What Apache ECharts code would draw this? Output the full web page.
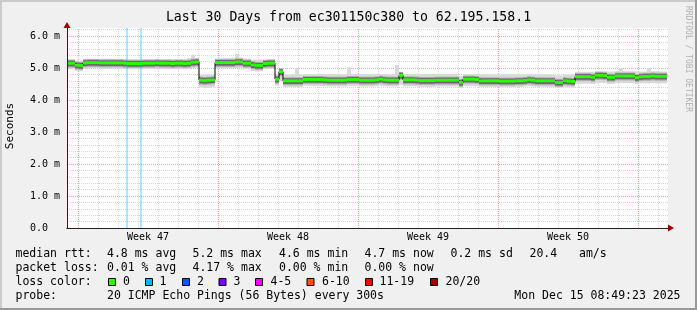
<!DOCTYPE html>
<html><head><meta charset="utf-8">
<script src="https://cdn.jsdelivr.net/npm/echarts@6/dist/echarts.min.js"></script>
<style>html,body{margin:0;padding:0;background:#f0f0f0}#c{width:697px;height:310px}</style>
</head><body><div id="c"></div>
<script>
// ---- data (time in days relative to Monday of week 47; values in ms) ----
const startDay = -0.55;
const stepDay = 0.2;
const endDay = 29.45;
const axisMaxDay = 29.5;
const weekLabels = ['Week 47', 'Week 48', 'Week 49', 'Week 50'];
const weekLabelDays = [3.5, 10.5, 17.5, 24.5];
const weekLineDays = [0, 7, 14, 21, 28];
const dayLineDays = [0,1,2,3,4,5,6,7,8,9,10,11,12,13,14,15,16,17,18,19,20,21,22,23,24,25,26,27,28,29];
const yTickLabels = ['0.0', '1.0 m', '2.0 m', '3.0 m', '4.0 m', '5.0 m', '6.0 m'];
const yMax = 6.25;

const medianMs = [
  5.15,5.15,5.09,5.08,5.16,5.17,5.17,5.17,5.16,5.16,
  5.16,5.16,5.16,5.16,5.15,5.14,5.14,5.14,5.14,5.15,
  5.15,5.15,5.16,5.15,5.15,5.15,5.14,5.15,5.15,5.14,
  5.15,5.18,5.19,4.62,4.61,4.62,4.63,5.17,5.17,5.17,
  5.17,5.17,5.19,5.19,5.15,5.15,5.10,5.08,5.08,5.14,
  5.15,5.15,4.65,4.88,4.60,4.60,4.60,4.60,4.60,4.64,
  4.64,4.64,4.64,4.64,4.63,4.62,4.62,4.62,4.62,4.62,
  4.64,4.64,4.64,4.62,4.62,4.62,4.62,4.63,4.65,4.63,
  4.62,4.62,4.62,4.77,4.63,4.63,4.63,4.62,4.61,4.61,
  4.61,4.61,4.62,4.62,4.62,4.62,4.62,4.62,4.55,4.65,
  4.65,4.65,4.64,4.60,4.60,4.60,4.60,4.60,4.59,4.59,
  4.59,4.59,4.60,4.60,4.61,4.63,4.62,4.60,4.60,4.60,
  4.60,4.60,4.55,4.55,4.60,4.59,4.58,4.73,4.73,4.73,
  4.73,4.71,4.77,4.77,4.76,4.71,4.71,4.75,4.75,4.75,
  4.75,4.75,4.70,4.73,4.74,4.74,4.75,4.74,4.74,4.74
];
const smokeBelow = [
  .19,.19,.18,.18,.18,.18,.17,.17,.18,.18,
  .18,.18,.17,.18,.18,.18,.18,.18,.18,.18,
  .18,.18,.18,.17,.18,.18,.18,.18,.18,.18,
  .18,.18,.18,.22,.24,.24,.22,.18,.18,.18,
  .18,.18,.19,.19,.19,.19,.19,.19,.18,.18,
  .18,.18,.20,.30,.20,.20,.20,.20,.20,.19,
  .20,.20,.20,.20,.20,.20,.20,.20,.20,.20,
  .20,.20,.20,.20,.20,.20,.20,.20,.20,.20,
  .20,.20,.20,.30,.20,.20,.20,.20,.20,.20,
  .20,.20,.20,.20,.20,.20,.20,.20,.17,.22,
  .22,.22,.21,.19,.19,.19,.19,.19,.19,.19,
  .19,.19,.19,.19,.19,.20,.20,.19,.19,.19,
  .19,.19,.16,.16,.19,.19,.19,.22,.22,.22,
  .22,.21,.24,.24,.23,.21,.21,.22,.22,.22,
  .22,.22,.20,.21,.22,.22,.22,.22,.22,.22
];
const smokeAbove = [
  .12,.12,.14,.14,.12,.12,.12,.12,.13,.13,
  .13,.13,.13,.13,.13,.14,.14,.14,.14,.13,
  .13,.13,.13,.13,.13,.13,.14,.13,.13,.14,
  .16,.23,.12,.17,.18,.18,.17,.13,.14,.15,
  .15,.15,.25,.14,.15,.14,.16,.18,.18,.13,
  .13,.13,.17,.06,.19,.19,.20,.40,.19,.17,
  .17,.17,.17,.17,.18,.19,.19,.19,.19,.19,
  .38,.17,.17,.19,.19,.19,.19,.18,.16,.18,
  .19,.19,.47,.05,.18,.18,.18,.19,.20,.20,
  .20,.20,.19,.19,.19,.19,.19,.19,.20,.16,
  .16,.16,.17,.20,.20,.20,.20,.20,.21,.21,
  .21,.21,.20,.20,.19,.17,.18,.20,.20,.20,
  .20,.20,.22,.22,.20,.21,.22,.15,.15,.15,
  .15,.17,.13,.13,.14,.18,.18,.15,.24,.15,
  .15,.15,.19,.16,.15,.26,.15,.16,.15,.15
];
const lossDays = [2.45, 3.15];

const statRows = [
  ['median rtt:', ['4.8 ms avg', '5.2 ms max', '4.6 ms min', '4.7 ms now', '0.2 ms sd', '20.4', 'am/s']],
  ['packet loss:', ['0.01 % avg', '4.17 % max', '0.00 % min', '0.00 % now']]
];
const lossColorLabels = ['0', '1', '2', '3', '4-5', '6-10', '11-19', '20/20'];
const lossColors = ['#26ff00', '#00b8ff', '#0059ff', '#7e00ff', '#ff00ff', '#ff5500', '#ff0000', '#a10000'];
const probeText = '20 ICMP Echo Pings (56 Bytes) every 300s';
const dateText = 'Mon Dec 15 08:49:23 2025';
const titleText = 'Last 30 Days from ec301150c380 to 62.195.158.1';

// ---- layout / styles ----
const MONO = '"DejaVu Sans Mono", monospace';
const xs = medianMs.map((_, i) => Math.round((startDay + i * stepDay) * 100) / 100);
xs.push(endDay);
const med = medianMs.concat([medianMs[medianMs.length - 1]]);

function band(lo, hi, color, z) {
  const data = medianMs.map((_, i) => [xs[i], xs[i + 1], lo[i], hi[i]]);
  return {
    type: 'custom', xAxisIndex: 0, yAxisIndex: 0, silent: true, z: z, data: data,
    encode: { x: [0, 1], y: [2, 3] },
    renderItem: function (params, api) {
      const p0 = api.coord([api.value(0), api.value(3)]);
      const p1 = api.coord([api.value(1), api.value(2)]);
      return { type: 'rect', shape: { x: p0[0], y: p0[1], width: p1[0] - p0[0], height: p1[1] - p0[1] },
        style: { fill: color } };
    }
  };
}

// vertical grid lines (day = grey dotted, week = red dotted) through the x scale
const vLines = dayLineDays.filter(d => weekLineDays.indexOf(d) < 0).map(d => [d, 0])
  .concat(weekLineDays.map(d => [d, 1]));
const gridSeries = {
  type: 'custom', xAxisIndex: 0, yAxisIndex: 0, silent: true, z: 1, data: vLines,
  encode: { x: 0 },
  renderItem: function (params, api) {
    const a = api.coord([api.value(0), 0]);
    const b = api.coord([api.value(0), yMax]);
    const x = Math.round(a[0]) + 0.5;
    const major = api.value(1) === 1;
    return { type: 'line', shape: { x1: x, y1: a[1], x2: x, y2: b[1] },
      style: { stroke: major ? '#f3a3a3' : '#d6d6d6', lineWidth: 1, lineDash: [1, 1] } };
  }
};
const labelSeries = {
  type: 'custom', xAxisIndex: 0, yAxisIndex: 0, silent: true, z: 6, clip: false,
  data: weekLabelDays.map((d, k) => [d, k]), encode: { x: 0 },
  renderItem: function (params, api) {
    const p = api.coord([api.value(0), 0]);
    return { type: 'text', x: p[0], y: p[1] + 4,
      style: { text: weekLabels[api.value(1)], font: '10px ' + MONO, fill: '#000', align: 'center', verticalAlign: 'top' } };
  }
};

const series = [
  gridSeries,
  band(medianMs.map((m, i) => m - smokeBelow[i]), medianMs.map((m, i) => m + smokeAbove[i]), '#d9d9d9', 2),
  band(medianMs.map(m => m - 0.14), medianMs.map(m => m + 0.11), '#b0b0b0', 2),
  band(medianMs.map(m => m - 0.10), medianMs.map(m => m + 0.08), '#6a6a6a', 2),
  { type: 'bar', xAxisIndex: 0, yAxisIndex: 0, silent: true, barWidth: 2, z: 3,
    data: lossDays.map(d => [d, yMax]), itemStyle: { color: 'rgba(0,184,255,0.33)' } },
  { type: 'line', step: 'end', symbol: 'none', silent: true, xAxisIndex: 0, yAxisIndex: 0, z: 4,
    data: med.map((v, i) => [xs[i], v]), lineStyle: { color: '#000', width: 1 } },
  band(medianMs.map(m => m - 0.045), medianMs.map(m => m + 0.045), lossColors[0], 5),
  labelSeries
];

const commonX = { type: 'value', min: startDay, max: axisMaxDay, gridIndex: 0, position: 'bottom',
  axisTick: { show: false }, axisLabel: { show: false }, splitLine: { show: false } };
const commonY = { type: 'value', min: 0, max: yMax, gridIndex: 0, position: 'left' };

const graphic = [
  { type: 'rect', shape: { x: 0, y: 0, width: 697, height: 2 }, style: { fill: '#cbcbcb' }, silent: true },
  { type: 'rect', shape: { x: 0, y: 0, width: 2, height: 310 }, style: { fill: '#cbcbcb' }, silent: true },
  { type: 'rect', shape: { x: 695, y: 0, width: 2, height: 310 }, style: { fill: '#999' }, silent: true },
  { type: 'rect', shape: { x: 0, y: 308, width: 697, height: 2 }, style: { fill: '#999' }, silent: true },
  { type: 'text', x: 10, y: 126, rotation: Math.PI / 2, silent: true,
    style: { text: 'Seconds', font: '11px ' + MONO, fill: '#000', align: 'center', verticalAlign: 'middle' } },
  { type: 'text', x: 688, y: 59, rotation: -Math.PI / 2, silent: true,
    style: { text: 'RRDTOOL / TOBI OETIKER', font: '8px ' + MONO, fill: '#b0b0b0', align: 'center', verticalAlign: 'middle' } }
];
const LF = '11.5px ' + MONO;
const rowY = [254, 268, 282, 296];
const statX = [107, 192.5, 279, 364.5, 450.5, 529.5, 579];
const txt = (t, x, y, align) => ({ type: 'text', x: x, y: y, silent: true,
  style: { text: t, font: LF, fill: '#000', align: align || 'left', verticalAlign: 'middle' } });
statRows.forEach((row, r) => {
  graphic.push(txt(row[0], 15.5, rowY[r]));
  row[1].forEach((t, k) => graphic.push(txt(t, statX[k], rowY[r])));
});
graphic.push(txt('loss color:', 15.5, rowY[2]));
const boxX = [108.5, 145.5, 182.5, 219, 255.5, 307, 365.5, 430.5];
const boxLabelX = [123, 159.5, 197, 233.5, 270.5, 322, 379.5, 445.5];
lossColorLabels.forEach((lab, k) => {
  graphic.push({ type: 'rect', silent: true, shape: { x: boxX[k], y: 278.5, width: 7, height: 7 },
    style: { fill: lossColors[k], stroke: '#000', lineWidth: 1 } });
  graphic.push(txt(lab, boxLabelX[k], rowY[2]));
});
graphic.push(txt('probe:', 15.5, rowY[3]));
graphic.push(txt(probeText, 107, rowY[3]));
graphic.push(txt(dateText, 680.5, rowY[3], 'right'));

const chart = echarts.init(document.getElementById('c'), null, { renderer: 'canvas', width: 697, height: 310 });
chart.setOption({
  animation: false,
  backgroundColor: '#f0f0f0',
  title: { text: titleText, left: 'center', top: 11, padding: 0,
    textStyle: { fontFamily: MONO, fontSize: 13.2, fontWeight: 'normal', color: '#000' } },
  grid: { left: 67, top: 28, width: 601, height: 200, show: true, backgroundColor: '#ffffff', borderWidth: 0 },
  xAxis: [
    Object.assign({}, commonX, { z: 7,
      axisLine: { show: true, onZero: false, symbol: ['none', 'triangle'], symbolSize: [7, 6], symbolOffset: [0, 3], lineStyle: { color: '#a00000', width: 1 } } }),
    Object.assign({}, commonX, { z: 8,
      axisLine: { show: true, onZero: false, lineStyle: { color: '#222', width: 1 } } })
  ],
  yAxis: [
    Object.assign({}, commonY, { interval: 0.2, z: 0,
      axisLine: { show: false, onZero: false }, axisTick: { show: false }, axisLabel: { show: false },
      splitLine: { show: true, showMinLine: false, showMaxLine: false, lineStyle: { color: '#d6d6d6', type: [1, 1], width: 1 } } }),
    Object.assign({}, commonY, { interval: 1, z: 1,
      axisLine: { show: false, onZero: false }, axisTick: { show: false }, axisLabel: { show: false },
      splitLine: { show: true, showMinLine: false, showMaxLine: false, lineStyle: { color: '#f3a3a3', type: [1, 1], width: 1 } } }),
    Object.assign({}, commonY, { interval: 1, z: 7,
      axisLine: { show: true, onZero: false, symbol: ['none', 'triangle'], symbolSize: [7, 6], symbolOffset: [0, 3], lineStyle: { color: '#a00000', width: 1 } },
      axisTick: { show: false }, axisLabel: { show: false }, splitLine: { show: false } }),
    Object.assign({}, commonY, { interval: 1, z: 8,
      axisLine: { show: true, onZero: false, lineStyle: { color: '#222', width: 1 } },
      axisTick: { show: false }, splitLine: { show: false },
      axisLabel: { show: true, margin: 37, align: 'left', fontFamily: MONO, fontSize: 10, color: '#000',
        formatter: v => (Math.abs(v - Math.round(v)) < 1e-6 && yTickLabels[Math.round(v)] !== undefined) ? yTickLabels[Math.round(v)] : '' } })
  ],
  graphic: { elements: graphic },
  series: series
});
</script></body></html>
